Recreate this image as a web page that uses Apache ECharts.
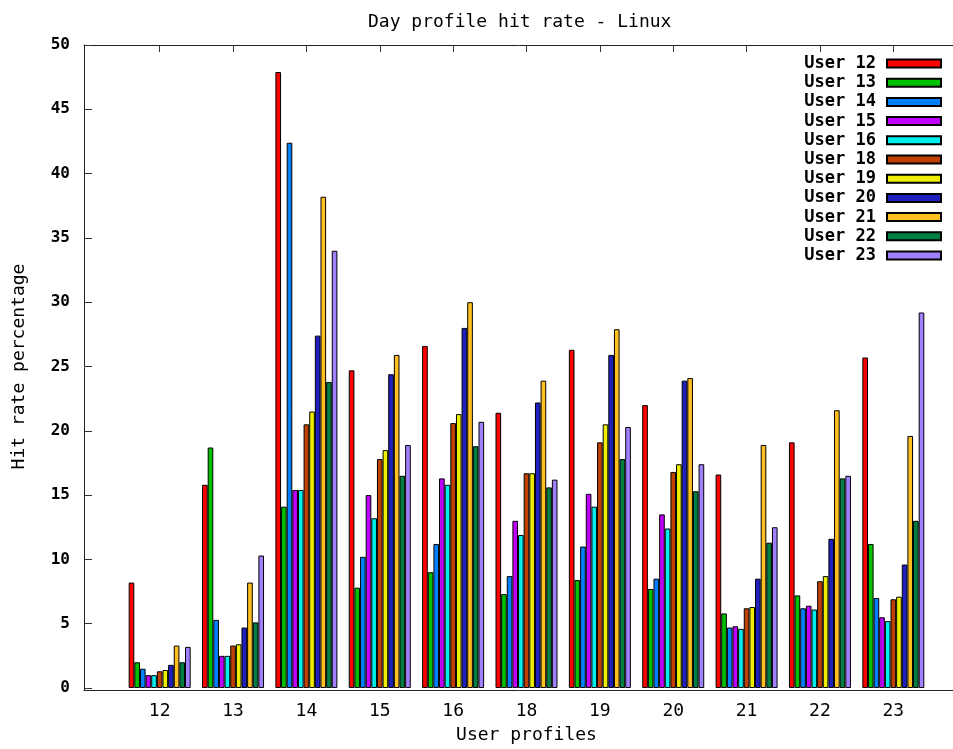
<!DOCTYPE html>
<html>
<head>
<meta charset="utf-8">
<script src="https://cdn.jsdelivr.net/npm/echarts@6/dist/echarts.min.js"></script>
<style>html,body{margin:0;padding:0;background:#fff;}#c{width:953px;height:749px;}</style>
</head>
<body>
<div id="c"></div>
<script>
var categories = ['12','13','14','15','16','18','19','20','21','22','23'];
var user12 = [8.2, 15.8, 47.9, 24.7, 26.6, 21.4, 26.3, 22.0, 16.6, 19.1, 25.7];
var user13 = [2.0, 18.7, 14.1, 7.8, 9.0, 7.3, 8.4, 7.7, 5.8, 7.2, 11.2];
var user14 = [1.5, 5.3, 42.4, 10.2, 11.2, 8.7, 11.0, 8.5, 4.7, 6.2, 7.0];
var user15 = [1.0, 2.5, 15.4, 15.0, 16.3, 13.0, 15.1, 13.5, 4.8, 6.4, 5.5];
var user16 = [1.0, 2.5, 15.4, 13.2, 15.8, 11.9, 14.1, 12.4, 4.6, 6.1, 5.2];
var user18 = [1.3, 3.3, 20.5, 17.8, 20.6, 16.7, 19.1, 16.8, 6.2, 8.3, 6.9];
var user19 = [1.4, 3.4, 21.5, 18.5, 21.3, 16.7, 20.5, 17.4, 6.3, 8.7, 7.1];
var user20 = [1.8, 4.7, 27.4, 24.4, 28.0, 22.2, 25.9, 23.9, 8.5, 11.6, 9.6];
var user21 = [3.3, 8.2, 38.2, 25.9, 30.0, 23.9, 27.9, 24.1, 18.9, 21.6, 19.6];
var user22 = [2.0, 5.1, 23.8, 16.5, 18.8, 15.6, 17.8, 15.3, 11.3, 16.3, 13.0];
var user23 = [3.2, 10.3, 34.0, 18.9, 20.7, 16.2, 20.3, 17.4, 12.5, 16.5, 29.2];
var seriesNames = ['User 12','User 13','User 14','User 15','User 16','User 18','User 19','User 20','User 21','User 22','User 23'];
var seriesData = [user12,user13,user14,user15,user16,user18,user19,user20,user21,user22,user23];
var colors = ['#ff0000','#00c000','#0080ff','#c000ff','#00eeee','#c04000','#eeee00','#2020c0','#ffc020','#008040','#a080ff'];
var yTicks = {min: 0, max: 50, interval: 5};

var mono = 'DejaVu Sans Mono';
var chart = echarts.init(document.getElementById('c'), null, {renderer: 'canvas'});
var series = seriesNames.map(function (n, i) {
  return {
    name: n, type: 'bar', xAxisIndex: 2, yAxisIndex: 1,
    data: seriesData[i],
    barGap: '0%', barCategoryGap: '15.5%',
    itemStyle: {color: colors[i], borderColor: '#000', borderWidth: 1},
    emphasis: {disabled: true}
  };
});
var frameLine = {show: true, lineStyle: {color: '#222', width: 1}};
chart.setOption({
  animation: false,
  backgroundColor: '#fff',
  title: {text: 'Day profile hit rate - Linux', left: 363, top: 8,
    textStyle: {fontFamily: mono, fontSize: 18, fontWeight: 'normal', color: '#000'}},
  grid: [
    {left: 84, right: 0, top: 45, bottom: 59},
    {left: 123, right: 23, top: 45, bottom: 59}
  ],
  legend: {
    orient: 'vertical', right: 11, top: 55, padding: 0, itemWidth: 54, itemHeight: 8, itemGap: 2.2,
    align: 'right', icon: 'rect', data: seriesNames,
    textStyle: {fontFamily: mono, fontWeight: 'bold', fontSize: 17, color: '#000', padding: [0, 6, 0, 0]}
  },
  xAxis: [
    {gridIndex: 0, type: 'value', min: 0, max: 1, position: 'bottom',
      axisLine: frameLine, axisTick: {show: false}, axisLabel: {show: false}, splitLine: {show: false}},
    {gridIndex: 0, type: 'value', min: 0, max: 1, position: 'top',
      axisLine: frameLine, axisTick: {show: false}, axisLabel: {show: false}, splitLine: {show: false}},
    {gridIndex: 1, type: 'category', data: categories, position: 'bottom',
      axisLine: {show: false}, axisTick: {show: false},
      axisLabel: {fontFamily: mono, fontSize: 18, color: '#000', margin: 14},
      name: 'User profiles', nameLocation: 'middle', nameGap: 38,
      nameTextStyle: {fontFamily: mono, fontSize: 18, color: '#000'}},
    {gridIndex: 1, type: 'category', data: categories, position: 'top',
      axisLine: {show: false}, axisLabel: {show: false},
      axisTick: {show: true, inside: true, length: 7, alignWithLabel: true, lineStyle: {color: '#333'}}}
  ],
  yAxis: [
    {gridIndex: 0, type: 'value', min: 0, max: 1, position: 'left',
      axisLine: frameLine, axisTick: {show: false}, axisLabel: {show: false}, splitLine: {show: false}},
    {gridIndex: 1, type: 'value', min: yTicks.min, max: yTicks.max, interval: yTicks.interval,
      offset: 39, splitLine: {show: false}, axisLine: {show: false},
      axisTick: {show: true, inside: true, length: 8, lineStyle: {color: '#333'}},
      axisLabel: {fontFamily: mono, fontWeight: 'bold', fontSize: 16, color: '#000', margin: 14},
      name: 'Hit rate percentage', nameLocation: 'middle', nameGap: 56,
      nameTextStyle: {fontFamily: mono, fontSize: 18, color: '#000'}}
  ],
  series: series
});
</script>
</body>
</html>
